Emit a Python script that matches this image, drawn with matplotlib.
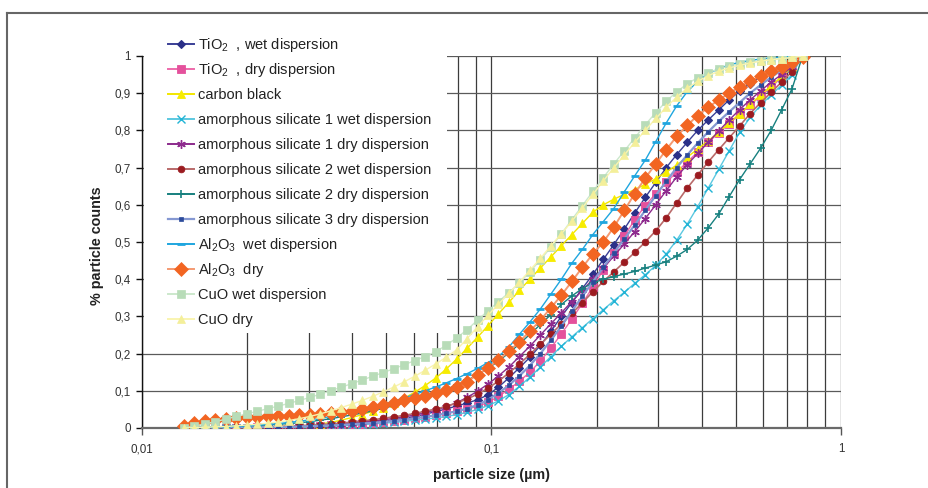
import numpy as np
import matplotlib
matplotlib.use("Agg")
import matplotlib.pyplot as plt
from matplotlib.lines import Line2D
from matplotlib.patches import Rectangle
from matplotlib.ticker import FixedLocator, LogLocator, NullFormatter, FuncFormatter

plt.rcParams['font.family'] = ['Liberation Sans', 'DejaVu Sans']
plt.rcParams['mathtext.fontset'] = 'custom'
plt.rcParams['mathtext.rm'] = 'Liberation Sans'
plt.rcParams['mathtext.it'] = 'Liberation Sans:italic'
plt.rcParams['mathtext.bf'] = 'Liberation Sans:bold'

# particle size bins (µm)
size_um = [0.01318, 0.01413, 0.01514, 0.01622, 0.01738, 0.01862, 0.01995, 0.02138, 0.02291, 0.02455,
           0.0263, 0.02818, 0.0302, 0.03236, 0.03467, 0.03715, 0.03981, 0.04266, 0.04571, 0.04898,
           0.05248, 0.05623, 0.06026, 0.06457, 0.06918, 0.07413, 0.07943, 0.08511, 0.0912, 0.09772,
           0.1047, 0.1122, 0.1202, 0.1288, 0.138, 0.1479, 0.1585, 0.1698, 0.182, 0.195,
           0.2089, 0.2239, 0.2399, 0.257, 0.2754, 0.2951, 0.3162, 0.3388, 0.3631, 0.389,
           0.4169, 0.4467, 0.4786, 0.5129, 0.5495, 0.5888, 0.631, 0.6761, 0.7244, 0.7762]

tio2_wet = [0.000, 0.000, 0.000, 0.001, 0.001, 0.001, 0.002, 0.002, 0.003, 0.003,
            0.004, 0.005, 0.006, 0.007, 0.008, 0.010, 0.012, 0.014, 0.016, 0.019,
            0.022, 0.026, 0.031, 0.037, 0.044, 0.051, 0.059, 0.067, 0.076, 0.089,
            0.110, 0.135, 0.162, 0.190, 0.222, 0.260, 0.300, 0.337, 0.375, 0.413,
            0.453, 0.493, 0.535, 0.578, 0.620, 0.660, 0.700, 0.735, 0.768, 0.800,
            0.828, 0.855, 0.882, 0.906, 0.926, 0.944, 0.958, 0.971, 0.985, 1.000]

tio2_dry = [0.000, 0.000, 0.000, 0.000, 0.001, 0.001, 0.001, 0.002, 0.002, 0.003,
            0.003, 0.004, 0.005, 0.006, 0.007, 0.008, 0.010, 0.012, 0.014, 0.016,
            0.019, 0.022, 0.026, 0.030, 0.035, 0.040, 0.045, 0.051, 0.058, 0.069,
            0.085, 0.104, 0.126, 0.150, 0.180, 0.215, 0.253, 0.293, 0.335, 0.380,
            0.425, 0.470, 0.516, 0.560, 0.598, 0.630, 0.660, 0.688, 0.715, 0.742,
            0.768, 0.793, 0.818, 0.843, 0.868, 0.892, 0.915, 0.943, 0.968, 1.000]

carbon_black = [0.000, 0.000, 0.000, 0.000, 0.000, 0.001, 0.001, 0.002, 0.003, 0.004,
                0.005, 0.006, 0.008, 0.011, 0.015, 0.021, 0.028, 0.036, 0.045, 0.055,
                0.067, 0.080, 0.096, 0.114, 0.134, 0.158, 0.185, 0.214, 0.244, 0.275,
                0.307, 0.338, 0.370, 0.400, 0.430, 0.460, 0.490, 0.520, 0.550, 0.580,
                0.600, 0.615, 0.628, 0.641, 0.655, 0.670, 0.688, 0.707, 0.728, 0.750,
                0.772, 0.795, 0.820, 0.845, 0.870, 0.895, 0.920, 0.945, 0.970, 1.000]

sil1_wet = [0.000, 0.000, 0.000, 0.000, 0.000, 0.000, 0.001, 0.001, 0.001, 0.001,
            0.002, 0.002, 0.003, 0.004, 0.005, 0.006, 0.007, 0.009, 0.011, 0.013,
            0.015, 0.018, 0.021, 0.024, 0.027, 0.031, 0.036, 0.042, 0.050, 0.060,
            0.073, 0.090, 0.112, 0.137, 0.164, 0.192, 0.220, 0.245, 0.270, 0.294,
            0.318, 0.342, 0.365, 0.389, 0.412, 0.437, 0.468, 0.505, 0.548, 0.595,
            0.645, 0.695, 0.745, 0.795, 0.835, 0.868, 0.895, 0.922, 0.950, 1.000]

sil1_dry = [0.000, 0.000, 0.000, 0.001, 0.001, 0.001, 0.002, 0.002, 0.003, 0.003,
            0.004, 0.005, 0.006, 0.007, 0.009, 0.011, 0.013, 0.016, 0.019, 0.022,
            0.026, 0.030, 0.035, 0.041, 0.048, 0.057, 0.068, 0.082, 0.099, 0.118,
            0.140, 0.164, 0.192, 0.220, 0.250, 0.280, 0.310, 0.340, 0.370, 0.400,
            0.430, 0.462, 0.495, 0.528, 0.563, 0.600, 0.638, 0.675, 0.708, 0.738,
            0.768, 0.798, 0.828, 0.856, 0.882, 0.906, 0.930, 0.950, 0.970, 1.000]

sil2_wet = [0.000, 0.000, 0.001, 0.001, 0.001, 0.002, 0.002, 0.003, 0.003, 0.004,
            0.005, 0.006, 0.007, 0.009, 0.011, 0.013, 0.016, 0.019, 0.022, 0.026,
            0.030, 0.034, 0.039, 0.045, 0.051, 0.058, 0.067, 0.078, 0.091, 0.107,
            0.126, 0.148, 0.172, 0.198, 0.225, 0.252, 0.280, 0.308, 0.337, 0.366,
            0.394, 0.420, 0.446, 0.472, 0.500, 0.530, 0.565, 0.605, 0.645, 0.680,
            0.715, 0.748, 0.780, 0.812, 0.845, 0.875, 0.902, 0.930, 0.958, 1.000]

sil2_dry = [0.000, 0.001, 0.002, 0.003, 0.004, 0.005, 0.006, 0.007, 0.008, 0.010,
            0.012, 0.014, 0.017, 0.021, 0.025, 0.030, 0.035, 0.040, 0.046, 0.053,
            0.060, 0.068, 0.076, 0.085, 0.094, 0.104, 0.115, 0.128, 0.143, 0.160,
            0.180, 0.202, 0.226, 0.252, 0.278, 0.305, 0.332, 0.355, 0.375, 0.390,
            0.400, 0.407, 0.414, 0.421, 0.430, 0.438, 0.447, 0.462, 0.480, 0.505,
            0.538, 0.575, 0.622, 0.668, 0.710, 0.752, 0.800, 0.855, 0.912, 1.000]

sil3_dry = [0.000, 0.000, 0.000, 0.000, 0.001, 0.001, 0.001, 0.002, 0.002, 0.002,
            0.003, 0.004, 0.005, 0.006, 0.007, 0.008, 0.010, 0.012, 0.014, 0.016,
            0.019, 0.022, 0.026, 0.030, 0.034, 0.039, 0.045, 0.052, 0.062, 0.076,
            0.094, 0.115, 0.140, 0.168, 0.200, 0.236, 0.274, 0.314, 0.354, 0.393,
            0.432, 0.470, 0.508, 0.546, 0.585, 0.625, 0.663, 0.700, 0.734, 0.766,
            0.796, 0.824, 0.850, 0.875, 0.900, 0.922, 0.943, 0.962, 0.980, 1.000]

al2o3_wet = [0.000, 0.001, 0.002, 0.003, 0.004, 0.005, 0.006, 0.008, 0.010, 0.012,
             0.015, 0.018, 0.022, 0.026, 0.031, 0.036, 0.042, 0.049, 0.056, 0.064,
             0.072, 0.081, 0.090, 0.100, 0.110, 0.121, 0.133, 0.146, 0.160, 0.176,
             0.192, 0.218, 0.252, 0.285, 0.320, 0.360, 0.400, 0.443, 0.480, 0.520,
             0.555, 0.590, 0.635, 0.678, 0.720, 0.770, 0.820, 0.866, 0.904, 0.932,
             0.952, 0.966, 0.976, 0.983, 0.988, 0.992, 0.995, 0.997, 0.999, 1.000]

al2o3_dry = [0.006, 0.013, 0.018, 0.022, 0.025, 0.027, 0.029, 0.030, 0.031, 0.032,
             0.033, 0.034, 0.035, 0.037, 0.039, 0.042, 0.046, 0.051, 0.056, 0.062,
             0.068, 0.074, 0.080, 0.087, 0.094, 0.102, 0.111, 0.125, 0.143, 0.162,
             0.183, 0.206, 0.232, 0.260, 0.290, 0.323, 0.357, 0.394, 0.432, 0.468,
             0.500, 0.540, 0.585, 0.630, 0.672, 0.710, 0.748, 0.784, 0.814, 0.840,
             0.862, 0.882, 0.900, 0.917, 0.932, 0.946, 0.959, 0.971, 0.984, 0.997]

cuo_wet = [0.000, 0.005, 0.011, 0.017, 0.024, 0.031, 0.038, 0.045, 0.052, 0.059,
           0.066, 0.074, 0.082, 0.091, 0.100, 0.110, 0.119, 0.129, 0.139, 0.149,
           0.159, 0.170, 0.181, 0.192, 0.205, 0.222, 0.242, 0.264, 0.290, 0.315,
           0.340, 0.364, 0.390, 0.420, 0.452, 0.486, 0.522, 0.560, 0.598, 0.636,
           0.673, 0.710, 0.745, 0.780, 0.815, 0.848, 0.878, 0.904, 0.925, 0.942,
           0.955, 0.965, 0.973, 0.979, 0.983, 0.987, 0.990, 0.993, 0.996, 1.000]

cuo_dry = [0.000, 0.001, 0.002, 0.003, 0.004, 0.006, 0.008, 0.010, 0.013, 0.016,
           0.020, 0.025, 0.031, 0.038, 0.046, 0.055, 0.064, 0.074, 0.085, 0.097,
           0.110, 0.124, 0.139, 0.155, 0.172, 0.190, 0.210, 0.240, 0.272, 0.303,
           0.333, 0.362, 0.392, 0.424, 0.456, 0.490, 0.522, 0.556, 0.592, 0.628,
           0.664, 0.700, 0.734, 0.768, 0.800, 0.832, 0.862, 0.890, 0.913, 0.932,
           0.947, 0.959, 0.968, 0.975, 0.981, 0.986, 0.990, 0.993, 0.996, 1.000]

labels = ['TiO$_2$  , wet dispersion', 'TiO$_2$  , dry dispersion', 'carbon black',
          'amorphous silicate 1 wet dispersion', 'amorphous silicate 1 dry dispersion',
          'amorphous silicate 2 wet dispersion', 'amorphous silicate 2 dry dispersion',
          'amorphous silicate 3 dry dispersion', 'Al$_2$O$_3$  wet dispersion',
          'Al$_2$O$_3$  dry', 'CuO wet dispersion', 'CuO dry']
series = [tio2_wet, tio2_dry, carbon_black, sil1_wet, sil1_dry, sil2_wet, sil2_dry,
          sil3_dry, al2o3_wet, al2o3_dry, cuo_wet, cuo_dry]

# style: line color, marker, marker size, marker color, line width, marker edge width
styles = [
    ('#3a3f96', 'D', 3.8, '#2b3088', 1.0, 0.8),
    ('#ee6aab', 's', 5.2, '#e4519c', 1.0, 0.6),
    ('#f2e600', '^', 6.0, '#f7ec00', 1.0, 0.6),
    ('#5cc8e0', 'x', 5.2, '#22b4d6', 1.0, 1.0),
    ('#8c2b8c', (6, 2, 0), 6.2, '#8e2a8e', 1.0, 1.0),
    ('#b96a6a', 'o', 4.8, '#9b1b20', 1.2, 0.6),
    ('#17807f', '+', 6.2, '#17807f', 1.0, 1.2),
    ('#8598d2', 's', 2.4, '#2c4b9b', 1.6, 0.5),
    ('#1fa6df', '_', 6.2, '#1fa6df', 1.0, 2.0),
    ('#f49a72', 'D', 7.6, '#f26522', 1.4, 0.5),
    ('#cce8cc', 's', 6.2, '#b8dcb8', 1.0, 0.5),
    ('#f9f4b0', '^', 6.4, '#f4ef9a', 1.0, 0.5),
]

W, H = 929, 488
fig = plt.figure(figsize=(W / 100, H / 100), dpi=100)
ax = fig.add_axes([142 / W, (H - 428) / H, 699 / W, 372 / H])

for vals, (lc, mk, ms, mc, lw, mew) in zip(series, styles):
    ax.plot(size_um, vals, color=lc, lw=lw, marker=mk, ms=ms, mfc=mc, mec=mc, mew=mew, zorder=3)

ax.set_xscale('log')
ax.set_xlim(0.01, 1)
ax.set_ylim(0, 1)
ax.xaxis.set_major_locator(FixedLocator([0.01, 0.1, 1]))
ax.xaxis.set_minor_locator(LogLocator(base=10, subs=np.arange(2, 10)))
ax.xaxis.set_minor_formatter(NullFormatter())
ax.xaxis.set_major_formatter(FuncFormatter(lambda v, p: {0.01: '0,01', 0.1: '0,1', 1: '1'}.get(round(v, 3), '')))
yt = np.round(np.arange(0, 1.01, 0.1), 1)
ax.yaxis.set_major_locator(FixedLocator(yt))
ax.yaxis.set_major_formatter(FuncFormatter(lambda v, p: ('%g' % round(v, 1)).replace('.', ',')))

ax.grid(which='both', axis='x', color='#3c3c3c', lw=0.9, zorder=1)
ax.grid(which='major', axis='y', color='#5a5a5a', lw=0.9, zorder=1)
ax.set_axisbelow(True)
ax.tick_params(axis='x', which='minor', length=0)
ax.tick_params(axis='x', which='major', direction='out', length=5, width=1, color='#555555',
               labelsize=8.4, labelcolor='#333333', pad=6)
ax.tick_params(axis='y', which='major', direction='out', length=4, width=1, color='#111111',
               labelsize=8.4, labelcolor='#333333', pad=4)
for s in ['top', 'right']:
    ax.spines[s].set_visible(False)
ax.spines['left'].set_color('#111111')
ax.spines['left'].set_linewidth(1.0)
ax.spines['bottom'].set_color('#6a6a6a')
ax.spines['bottom'].set_linewidth(1.6)

ax.set_ylabel('% particle counts', fontsize=10.4, fontweight='bold', color='#222222')
ax.yaxis.set_label_coords((104 - 142) / 699, 0.49)
ax.set_xlabel('particle size (µm)', fontsize=10.4, fontweight='bold', color='#222222')
ax.xaxis.set_label_coords(0.4993, -(468 - 428) / 372)

# figure frame (left and top edges visible)
fx = 7.5 / W
fy = 1 - 12.5 / H
fig.add_artist(Line2D([fx, fx], [-0.05, fy], transform=fig.transFigure, color='#666666', lw=1.5))
fig.add_artist(Line2D([fx, 1.05], [fy, fy], transform=fig.transFigure, color='#666666', lw=1.5))

# legend box
fig.add_artist(Rectangle((144 / W, (H - 333) / H), (447 - 144) / W, (333 - 30) / H,
                         transform=fig.transFigure, facecolor='white', edgecolor='none', zorder=5))
for i, (lab, (lc, mk, ms, mc, lw, mew)) in enumerate(zip(labels, styles)):
    yc = 44 + 25 * i
    yf = 1 - yc / H
    fig.add_artist(Line2D([168 / W, 194 / W], [yf, yf], transform=fig.transFigure,
                          color=lc, lw=max(lw, 1.4), zorder=6))
    fig.add_artist(Line2D([181 / W], [yf], transform=fig.transFigure, marker=mk, ms=ms,
                          mfc=mc, mec=mc, mew=mew, lw=0, zorder=7))
    fig.text(198 / W, 1 - (yc + 5) / H, lab, fontsize=10.5, color='#222222',
             ha='left', va='baseline', zorder=8)

fig.savefig('out.png', dpi=100)
